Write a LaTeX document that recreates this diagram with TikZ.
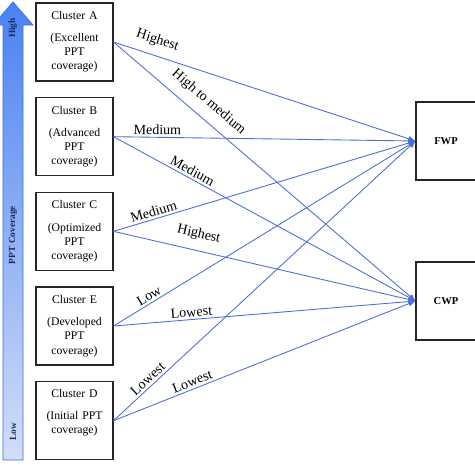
\documentclass[tikz,border=0pt]{standalone}
\usepackage{fontspec}
\setmainfont{Liberation Serif}
\usetikzlibrary{arrows.meta,positioning}

\definecolor{linkblue}{HTML}{4B6FD6}
\definecolor{arrowtop}{HTML}{4A82F2}
\definecolor{arrowbot}{HTML}{D2DEF8}
\definecolor{arrowedge}{HTML}{3E6FD8}
\definecolor{scaleink}{HTML}{1C2A66}

\begin{document}
\begin{tikzpicture}[x=0.03cm,y=-0.03cm,node distance=2.84cm,on grid,
    >={Latex[length=6pt,width=5pt]}]
            \tikzstyle{cluster}=[draw=black!85, line width=0.9pt, fill=white,
                minimum width=2.31cm, minimum height=2.34cm, text width=2.1cm,
                inner sep=0pt, align=center, font=\fontsize{10}{12}\selectfont]
            \tikzstyle{target}=[draw=black!85, line width=0.9pt,
                minimum width=1.8cm, minimum height=2.34cm,
                font=\fontsize{9}{11}\selectfont\bfseries]
            \tikzstyle{lbl}=[sloped, above, inner sep=2pt, font=\fontsize{12}{14}\selectfont]
            \tikzstyle{scaletext}=[rotate=90, text=scaleink, inner sep=0pt,
                font=\fontsize{8}{10}\selectfont\bfseries]
            \tikzstyle{flow}=[->, every edge/.append style={draw=linkblue, line width=0.75pt}]

            \useasboundingbox (0,0) rectangle (474,474);

            % coverage scale
            \shade[top color=arrowtop, bottom color=arrowbot, draw=arrowedge, line width=0.6pt]
                (3,460) -- (3,25) -- (-7,25) -- (13,2) -- (33,25) -- (23,25) -- (23,460) -- cycle;
            \node[scaletext] (high) at (13,28)  {High};
            \node[scaletext] (ppt)  at (13,235) {PPT Coverage};
            \node[scaletext] (low)  at (13,432) {Low};

            \node[cluster] (A) at (74.5,42) {Cluster A\\[7pt](Excellent\\PPT\\coverage)};
            \node[cluster] (B) [below=of A] {Cluster B\\[7pt](Advanced\\PPT\\coverage)};
            \node[cluster] (C) [below=of B] {Cluster C\\[7pt](Optimized\\PPT\\coverage)};
            \node[cluster] (E) [below=of C] {Cluster E\\[7pt](Developed\\PPT\\coverage)};
            \node[cluster] (D) [below=of E] {Cluster D\\[7pt](Initial PPT\\coverage)\\\strut};

            \node[target] (FWP) at (446,141)     {FWP};
            \node[target] (CWP) [below=4.8cm of FWP] {CWP};

            \path[flow]
                    (A.east) edge node[lbl, pos=0.13, above=5pt] {Highest} (FWP.west)
                    (A.east) edge node[lbl, pos=0.28, above=6pt] {High to medium} (CWP.west)

                    (B.east) edge node[lbl, pos=0.145] {Medium} (FWP.west)
                    (B.east) edge node[lbl, pos=0.25] {Medium} (CWP.west)

                    (C.east) edge node[lbl, pos=0.14] {Medium} (FWP.west)
                    (C.east) edge node[lbl, pos=0.27, above=6pt] {Highest} (CWP.west)

                    (E.east) edge node[lbl, pos=0.13] {Low} (FWP.west)
                    (E.east) edge node[lbl, pos=0.26] {Lowest} (CWP.west)

                    (D.east) edge node[lbl, pos=0.13] {Lowest} (FWP.west)
                    (D.east) edge node[lbl, pos=0.27] {Lowest} (CWP.west)
                ;
        \end{tikzpicture}
\end{document}
